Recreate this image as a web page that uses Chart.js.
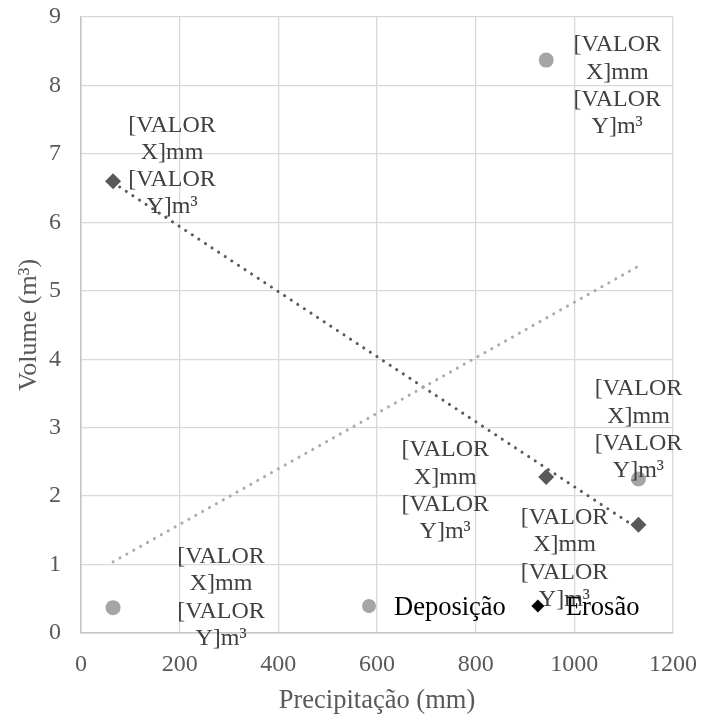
<!DOCTYPE html>
<html>
<head>
<meta charset="utf-8">
<script src="https://cdn.jsdelivr.net/npm/chart.js@4.4.1/dist/chart.umd.min.js"></script>
<style>
  html, body { margin: 0; padding: 0; background: #fff; }
</style>
</head>
<body>
<canvas id="chart" width="701" height="717"></canvas>
<script>
// values
const seriesNames = ["Deposição", "Erosão"];
const depositionX = [65, 943, 1130];
const depositionY = [0.37, 8.37, 2.25];
const erosionX = [65, 943, 1130];
const erosionY = [6.6, 2.28, 1.58];
// linear trend lines (end points as drawn in the original)
const depositionTrendX = [65, 1130];
const depositionTrendY = [1.04, 5.36];
const erosionTrendX = [65, 1130];
const erosionTrendY = [6.58, 1.52];

const xTicks = [0, 200, 400, 600, 800, 1000, 1200];
const yTicks = [0, 1, 2, 3, 4, 5, 6, 7, 8, 9];
const xTitle = "Precipitação (mm)";
const yTitle = "Volume (m³)";
const pointLabelLines = ["[VALOR", "X]mm", "[VALOR", "Y]m³"];

// label placement relative to each point (px): [dx, dy of first line]
const depositionLabelOffsets = [[108, -51], [71, -15], [0, -90]];
const erosionLabelOffsets = [[59, -56], [-101, -27], [-74, -7]];

const SERIF = '"Liberation Serif", "Times New Roman", serif';
const GREY_LIGHT = "#A5A5A5";
const GREY_DARK = "#595959";

function toPoints(xs, ys) {
    return xs.map((x, i) => ({ x: x, y: ys[i] }));
}

const dataLabelPlugin = {
    id: "dataLabels",
    afterDatasetsDraw(chart) {
        const ctx = chart.ctx;
        ctx.save();
        ctx.font = "24px " + SERIF;
        ctx.fillStyle = "#404040";
        ctx.textAlign = "center";
        ctx.textBaseline = "middle";
        chart.data.datasets.forEach((ds, di) => {
            if (!ds.labelOffsets) return;
            const meta = chart.getDatasetMeta(di);
            meta.data.forEach((pt, i) => {
                const off = ds.labelOffsets[i];
                pointLabelLines.forEach((line, li) => {
                    ctx.fillText(line, pt.x + off[0], pt.y + off[1] + li * 27.3);
                });
            });
        });
        ctx.restore();
    },
};

const innerLegendPlugin = {
    id: "innerLegend",
    afterDraw(chart) {
        const ctx = chart.ctx;
        ctx.save();
        ctx.font = "26.5px " + SERIF;
        ctx.textBaseline = "middle";
        ctx.textAlign = "left";
        let x = 369;
        const y = 606;
        // Deposição
        ctx.fillStyle = GREY_LIGHT;
        ctx.beginPath();
        ctx.arc(x, y, 7, 0, Math.PI * 2);
        ctx.fill();
        ctx.fillStyle = "#000";
        ctx.fillText(seriesNames[0], x + 25, y + 2);
        x = x + 25 + ctx.measureText(seriesNames[0]).width + 32;
        // Erosão
        ctx.fillStyle = "#000";
        ctx.beginPath();
        ctx.moveTo(x, y - 6.5);
        ctx.lineTo(x + 6.5, y);
        ctx.lineTo(x, y + 6.5);
        ctx.lineTo(x - 6.5, y);
        ctx.closePath();
        ctx.fill();
        ctx.fillText(seriesNames[1], x + 28, y + 2);
        ctx.restore();
    },
};

function noEdgePadding(scale) {
    scale.paddingTop = 0;
    scale.paddingBottom = 0;
    scale.paddingLeft = 0;
    scale.paddingRight = 0;
}

const ctx = document.getElementById("chart").getContext("2d");
new Chart(ctx, {
    type: "scatter",
    data: {
        datasets: [
            {
                label: seriesNames[0] + " trend",
                data: toPoints(depositionTrendX, depositionTrendY),
                showLine: true,
                borderColor: "#ABABAB",
                borderWidth: 3,
                borderDash: [0.1, 7.8],
                borderCapStyle: "round",
                pointRadius: 0,
                order: 3,
            },
            {
                label: seriesNames[1] + " trend",
                data: toPoints(erosionTrendX, erosionTrendY),
                showLine: true,
                borderColor: GREY_DARK,
                borderWidth: 3,
                borderDash: [0.1, 7.8],
                borderCapStyle: "round",
                pointRadius: 0,
                order: 3,
            },
            {
                label: seriesNames[0],
                data: toPoints(depositionX, depositionY),
                pointStyle: "circle",
                pointRadius: 7.5,
                backgroundColor: GREY_LIGHT,
                borderColor: GREY_LIGHT,
                borderWidth: 0,
                labelOffsets: depositionLabelOffsets,
                order: 1,
            },
            {
                label: seriesNames[1],
                data: toPoints(erosionX, erosionY),
                pointStyle: "rectRot",
                pointRadius: 8,
                backgroundColor: GREY_DARK,
                borderColor: GREY_DARK,
                borderWidth: 0,
                labelOffsets: erosionLabelOffsets,
                order: 1,
            },
        ],
    },
    options: {
        responsive: false,
        animation: false,
        devicePixelRatio: 1,
        layout: { padding: { top: 17, right: 28, left: 0, bottom: 0 } },
        plugins: {
            legend: { display: false },
            tooltip: { enabled: false },
        },
        scales: {
            x: {
                type: "linear",
                min: xTicks[0],
                max: xTicks[xTicks.length - 1],
                afterBuildTicks: (scale) => {
                    scale.ticks = xTicks.map((v) => ({ value: v }));
                },
                afterFit: (scale) => {
                    scale.height = 84;
                    noEdgePadding(scale);
                },
                grid: { color: "#D9D9D9", lineWidth: 1.3, drawTicks: false },
                border: { color: "#C6C6C6", width: 1.6 },
                ticks: {
                    color: GREY_DARK,
                    font: { family: SERIF, size: 24 },
                    padding: 17,
                    maxRotation: 0,
                    callback: (v) => String(v),
                },
                title: {
                    display: true,
                    text: xTitle,
                    color: GREY_DARK,
                    font: { family: SERIF, size: 26.5 },
                    padding: { top: 0, bottom: 0 },
                },
            },
            y: {
                type: "linear",
                min: yTicks[0],
                max: yTicks[yTicks.length - 1],
                afterBuildTicks: (scale) => {
                    scale.ticks = yTicks.map((v) => ({ value: v }));
                },
                afterFit: (scale) => {
                    scale.width = 81;
                    noEdgePadding(scale);
                },
                grid: { color: "#D9D9D9", lineWidth: 1.3, drawTicks: false },
                border: { color: "#C6C6C6", width: 1.6 },
                ticks: {
                    color: GREY_DARK,
                    font: { family: SERIF, size: 24 },
                    padding: 20,
                    callback: (v) => String(v),
                },
                title: {
                    display: true,
                    text: yTitle,
                    color: GREY_DARK,
                    font: { family: SERIF, size: 26 },
                    padding: { top: 14, bottom: 0 },
                },
            },
        },
    },
    plugins: [dataLabelPlugin, innerLegendPlugin],
});
</script>
</body>
</html>
